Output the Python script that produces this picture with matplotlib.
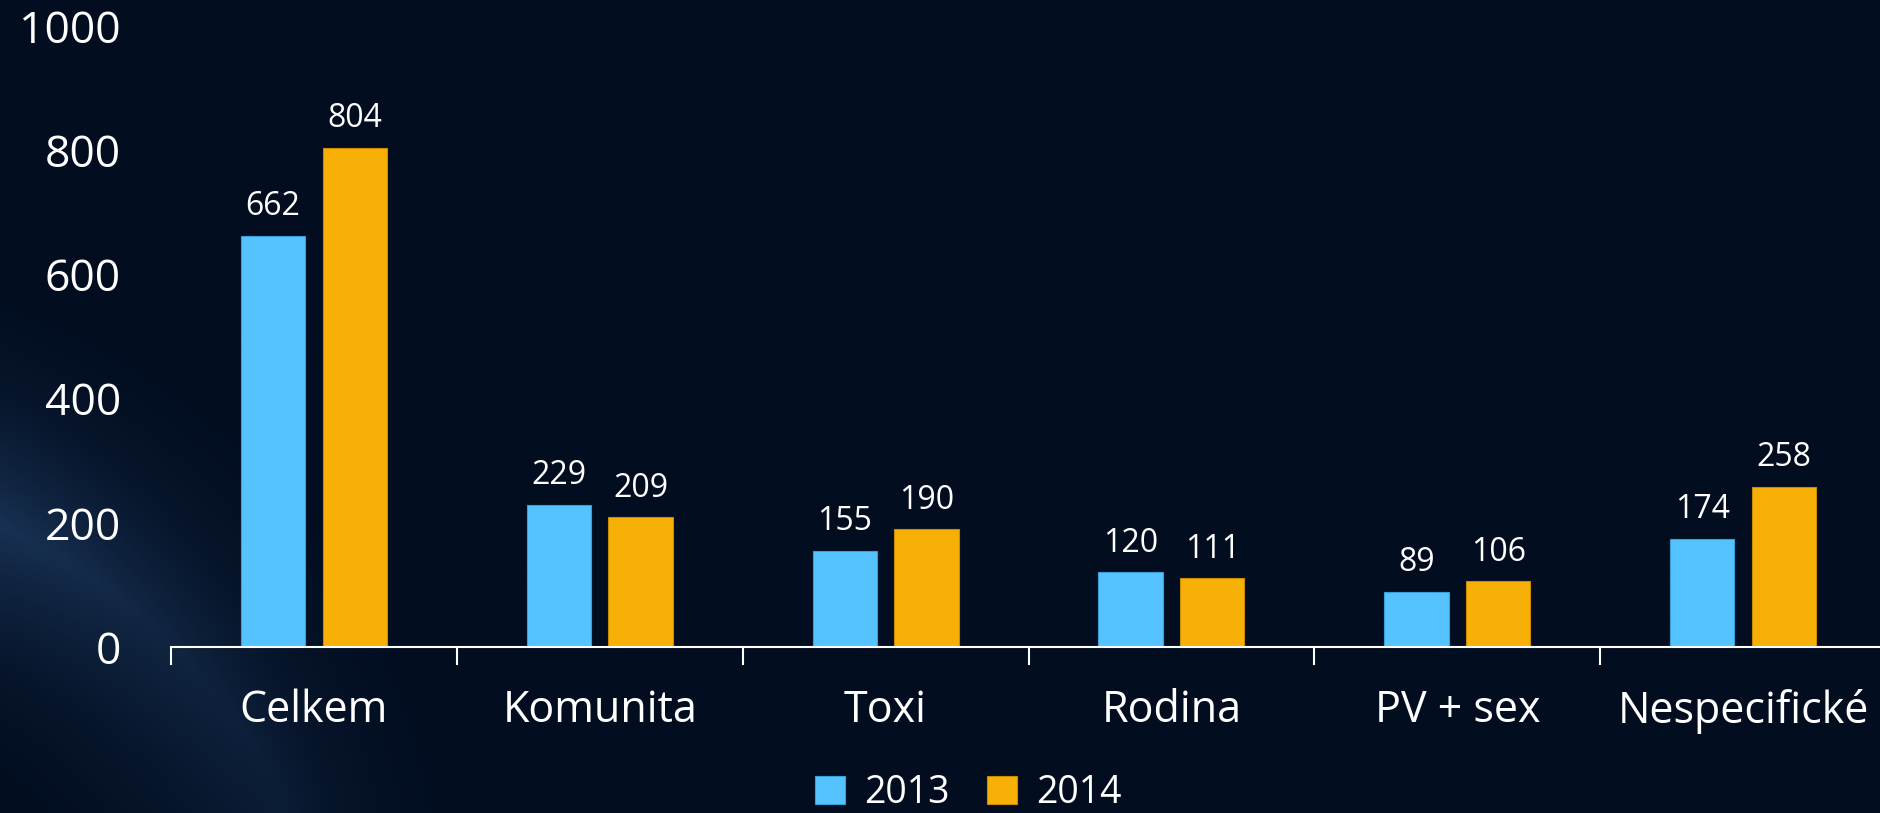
import matplotlib.pyplot as plt
import numpy as np

categories = ["Celkem", "Komunita", "Toxi", "Rodina", "PV + sex", "Nespecifické"]
values_2013 = [662, 229, 155, 120, 89, 174]
values_2014 = [804, 209, 190, 111, 106, 258]
series_names = ["2013", "2014"]
y_ticks = [0, 200, 400, 600, 800, 1000]

blue = "#55c3ff"
orange = "#f7b106"
plt.rcParams['font.family'] = ['Open Sans', 'DejaVu Sans']

fig = plt.figure(figsize=(18.8, 8.13), dpi=100)

# background: dark navy with a faint glow in the lower left
bg = fig.add_axes([0, 0, 1, 1], zorder=-10)
h, w = 300, 700
yy, xx = np.mgrid[0:h, 0:w]
yy = yy / h
xx = xx / w * (18.8 / 8.13)
d = np.sqrt((xx + 0.3) ** 2 + (yy - 1.3) ** 2)
glow = np.clip(1 - np.abs(d - 0.72) / 0.3, 0, 1) ** 2 * np.clip(1 - xx / 0.6, 0, 1)
base = np.array([2, 13, 32]) / 255
glow_col = np.array([32, 62, 100]) / 255
img = base + glow[..., None] * (glow_col - base) * 0.75
bg.imshow(img, aspect="auto", extent=[0, 1, 0, 1], origin="upper")
bg.axis("off")

ax = fig.add_axes([171 / 1880, (813 - 647) / 813, (1886 - 171) / 1880, 621 / 813])
ax.patch.set_alpha(0)

x = np.arange(len(categories))
bw = 0.225
b1 = ax.bar(x - 0.143, values_2013, bw, color=blue, edgecolor="#3a9fd8", linewidth=0.8, label=series_names[0])
b2 = ax.bar(x + 0.143, values_2014, bw, color=orange, edgecolor="#c98c00", linewidth=0.8, label=series_names[1])

for bars in (b1, b2):
    for rect in bars:
        ax.annotate(str(int(rect.get_height())), (rect.get_x() + rect.get_width() / 2, rect.get_height()),
                    textcoords="offset points", xytext=(0, 9), ha="center", va="bottom",
                    color="white", fontsize=23)

ax.set_xlim(-0.5, len(categories) - 0.5)
ax.set_ylim(0, 1000)
ax.set_yticks(y_ticks)
ax.set_yticklabels([str(v) for v in y_ticks], color="white", fontsize=32)
ax.tick_params(axis="y", length=0, pad=36)

ax.set_xticks(np.arange(len(categories) + 1) - 0.5)
ax.set_xticklabels([])
ax.set_xticks(x, minor=True)
ax.set_xticklabels(categories, minor=True, color="white", fontsize=31)
ax.tick_params(axis="x", which="major", length=13, width=1.5, color="white", direction="out")
ax.tick_params(axis="x", which="minor", length=0, pad=30)

for s in ("top", "right", "left"):
    ax.spines[s].set_visible(False)
ax.spines["bottom"].set_color("white")
ax.spines["bottom"].set_linewidth(1.5)

leg = fig.legend(loc="center", bbox_to_anchor=(0.515, (813 - 793) / 813), ncol=2, frameon=False,
                 fontsize=27, handlelength=0.8, handleheight=0.8, handletextpad=0.5,
                 columnspacing=1.0, labelcolor="white")

fig.savefig("out.png", dpi=100)
